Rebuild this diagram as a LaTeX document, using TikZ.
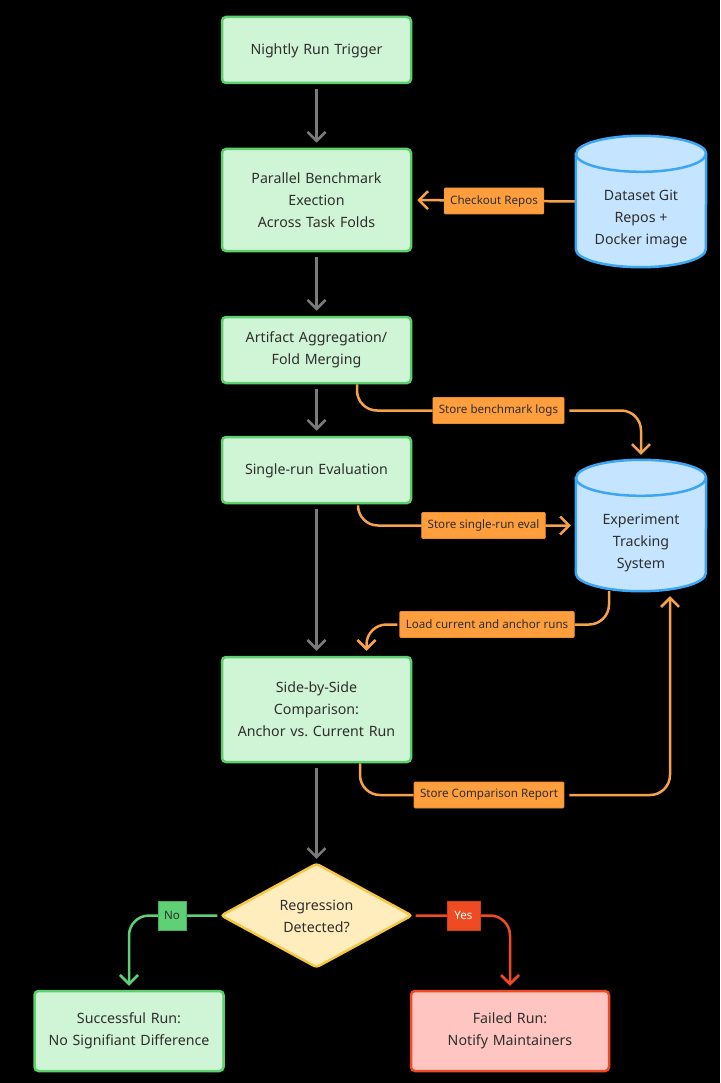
\documentclass[tikz,border=0pt]{standalone}
\usepackage{fontspec}
\setmainfont{Noto Sans}
\usetikzlibrary{arrows.meta,calc}
\definecolor{gfill}{HTML}{D0F5D6}
\definecolor{gline}{HTML}{5CCF6E}
\definecolor{bfill}{HTML}{C4E4FF}
\definecolor{bline}{HTML}{3CA6F5}
\definecolor{orng}{HTML}{FF9E3D}
\definecolor{oedge}{HTML}{E88A2E}
\definecolor{oline}{HTML}{F7A24A}
\definecolor{yfill}{HTML}{FFEDBE}
\definecolor{yline}{HTML}{F6C744}
\definecolor{rfill}{HTML}{FFC6C1}
\definecolor{rline}{HTML}{F04A22}
\definecolor{txt}{HTML}{2E2E2E}
\definecolor{arrgray}{HTML}{7A7A7A}
\definecolor{nofill}{HTML}{5ED174}
\pgfdeclarelayer{back}
\pgfdeclarelayer{lines}
\pgfsetlayers{back,lines,main}
\frenchspacing
\begin{document}
\begin{tikzpicture}[x=1pt,y=-1pt,
  box/.style={draw=gline, fill=gfill, line width=2.5pt, rounded corners=4pt,
    minimum width=189pt, text width=180pt, align=center, inner sep=0pt,
    font=\fontsize{14.2}{22}\selectfont, text=txt},
  redbox/.style={box, draw=rline, fill=rfill},
  dbnode/.style={minimum width=130pt, minimum height=131pt, inner sep=0pt, align=center,
    font=\fontsize{14.2}{22}\selectfont, text=txt},
  cyl/.style={draw=bline, fill=bfill, line width=2.5pt},
  lbl/.style={fill=orng, draw=oedge, line width=0.6pt, rounded corners=1pt,
    font=\fontsize{11.6}{13}\selectfont, text=txt, inner xsep=6pt, minimum height=26pt},
  garr/.style={draw=arrgray, line width=2.5pt, -{Straight Barb[length=9pt,width=18pt]},
    shorten >=5pt, shorten <=5pt},
  oarr/.style={draw=oline, line width=2.5pt, -{Straight Barb[length=9pt,width=18pt]},
    rounded corners=20pt, shorten >=5pt, shorten <=5pt},
  ttext/.style={align=center, font=\fontsize{14.2}{22}\selectfont, text=txt},
]
\begin{pgfonlayer}{back}
\fill[black] (0,0) rectangle (720,1083);
\end{pgfonlayer}
\useasboundingbox (0,0) rectangle (720,1083);

% main boxes
\node[box, minimum height=66pt] (trig) at (316.5,50) {\strut Nightly Run Trigger};
\node[box, minimum height=102pt] (par) at (316.5,200) {Parallel Benchmark\\Exection\\Across Task Folds};
\node[box, minimum height=66pt] (art) at (316.5,350) {Artifact Aggregation/\\Fold Merging};
\node[box, minimum height=66pt] (eval) at (316.5,470) {\strut Single-run Evaluation};
\node[box, minimum height=105pt] (side) at (316.5,709.5) {Side-by-Side\\Comparison:\\Anchor vs. Current Run};
\node[box, minimum height=80pt] (succ) at (129,1031) {Successful Run:\\No Signifiant Difference};
\node[redbox, minimum width=198pt, minimum height=80pt] (fail) at (510,1031) {Failed Run:\\Notify Maintainers};

% decision diamond
\node[minimum width=190pt, minimum height=103pt, inner sep=0pt] (dec) at (316.5,915.5) {};
\begin{pgfonlayer}{lines}
\draw[draw=yline, fill=yfill, line width=2.5pt, rounded corners=3pt]
  (dec.north) -- (dec.east) -- (dec.south) -- (dec.west) -- cycle;
\end{pgfonlayer}
\node[ttext] at ($(dec.center)+(0,1)$) {Regression\\Detected?};

% cylinders
\node[dbnode] (ds) at (641,201.5) {};
\node[dbnode] (exp) at (641,525.5) {};
\foreach \c in {ds,exp}{
  \draw[cyl] ($(\c.north west)+(0,18)$) -- ($(\c.south west)+(0,-18)$)
    arc[start angle=180, end angle=360, x radius=65pt, y radius=18pt]
    -- ($(\c.north east)+(0,18)$)
    arc[start angle=0, end angle=180, x radius=65pt, y radius=18pt] -- cycle;
  \draw[cyl, fill=none] ($(\c.north west)+(0,18)$)
    arc[start angle=180, end angle=360, x radius=65pt, y radius=18pt];
}
\node[ttext] at ($(ds.center)+(0,17)$) {Dataset Git\\Repos +\\Docker image};
\node[ttext] at ($(exp.center)+(0,17)$) {Experiment\\Tracking\\System};

% labels
\node[lbl] (lchk) at (494,201) {Checkout Repos};
\node[lbl] (llog) at (498.5,410.5) {Store benchmark logs};
\node[lbl] (lsre) at (483.5,525.5) {Store single-run eval};
\node[lbl] (lload) at (487,624.5) {Load current and anchor runs};
\node[lbl] (lcmp) at (489,795) {Store Comparison Report};
\node[fill=nofill, draw=nofill!80!black, line width=0.6pt, minimum width=28pt, minimum height=29pt, inner sep=0pt,
  font=\fontsize{11.6}{13}\selectfont, text=txt] (lno) at (172,915.5) {No};
\node[fill=rline, draw=rline!85!black, line width=0.6pt, minimum width=33pt, minimum height=29pt, inner sep=0pt,
  font=\fontsize{11.6}{13}\selectfont, text=white] (lyes) at (463.5,915.5) {Yes};

% connectors
\begin{pgfonlayer}{lines}
\draw[garr] (trig.south) -- (par.north);
\draw[garr] (par.south) -- (art.north);
\draw[garr] (art.south) -- (eval.north);
\draw[garr] (eval.south) -- (side.north);
\draw[garr] (side.south) -- (dec.north);
\draw[oarr, shorten <=0pt] (ds.west) -- (par.east);
\draw[oarr] ([xshift=40.5pt]art.south) |- (llog) -| (exp.north);
\draw[oarr] ([xshift=41.5pt]eval.south) |- (exp.west);
\draw[oarr, shorten <=2pt] ([xshift=-32pt]exp.south) |- (lload) -| ([xshift=50pt]side.north);
\draw[oarr] ([xshift=43.5pt]side.south) |- (lcmp) -| ([xshift=29pt]exp.south);
\draw[oarr, draw=nofill, shorten <=4pt, shorten >=4pt] (dec.west) -| (succ.north);
\draw[oarr, draw=rline, shorten <=4pt, shorten >=4pt] (dec.east) -| (fail.north);
\end{pgfonlayer}
\end{tikzpicture}
\end{document}
